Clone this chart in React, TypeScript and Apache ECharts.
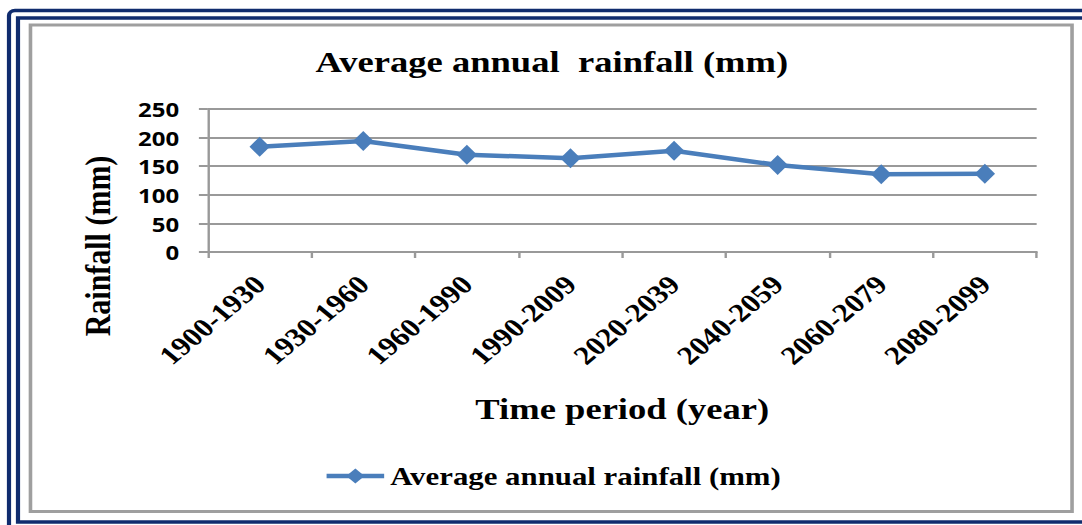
import React, { useEffect, useRef } from "react";
import * as echarts from "echarts";

const categories = [
  "1900-1930",
  "1930-1960",
  "1960-1990",
  "1990-2009",
  "2020-2039",
  "2040-2059",
  "2060-2079",
  "2080-2099",
];
const rainfall = [184, 194, 170, 164, 177, 152, 136, 137];
const seriesName = "Average annual rainfall (mm)";
const titleText = "Average annual  rainfall (mm)";
const xName = "Time period (year)";
const yName = "Rainfall (mm)";

const W = 902;
const H = 525;
const SX = 1082 / W;
const serif = "'Liberation Serif', 'Times New Roman', serif";
const navy = "#102c6e";

export default function App() {
  const ref = useRef<HTMLDivElement>(null);
  useEffect(() => {
    if (!ref.current) return;
    const chart = echarts.init(ref.current, null, { renderer: "svg" });
    chart.setOption({
      animation: false,
      backgroundColor: "#ffffff",
      title: {
        text: titleText,
        left: 263,
        top: 46,
        padding: 0,
        textStyle: { fontFamily: serif, fontWeight: "bold", fontSize: 30.5, color: "#000" },
      },
      legend: {
        data: [seriesName],
        left: 270,
        top: 463,
        padding: 0,
        itemWidth: 48,
        itemHeight: 19,
        itemGap: 5,
        lineStyle: { width: 4.5 },
        textStyle: { fontFamily: serif, fontWeight: "bold", fontSize: 25.7, color: "#000" },
      },
      grid: { left: 173.3, right: 37.8, top: 109, bottom: 273, containLabel: false },
      xAxis: {
        type: "category",
        data: categories,
        boundaryGap: true,
        name: xName,
        nameLocation: "middle",
        nameGap: 141,
        nameTextStyle: { fontFamily: serif, fontWeight: "bold", fontSize: 30.5, color: "#000" },
        axisLine: { lineStyle: { color: "#999", width: 2 } },
        axisTick: { show: true, length: 6, alignWithLabel: false, lineStyle: { color: "#999", width: 2 } },
        axisLabel: {
          interval: 0,
          rotate: 45,
          margin: 28,
          fontFamily: serif,
          fontWeight: "bold",
          fontSize: 26,
          color: "#000",
        },
        splitLine: { show: false },
      },
      yAxis: {
        type: "value",
        min: 0,
        max: 250,
        interval: 50,
        axisLine: { show: true, lineStyle: { color: "#999", width: 2 } },
        axisTick: { show: true, length: 7.5, lineStyle: { color: "#999", width: 2 } },
        axisLabel: {
          margin: 24,
          fontFamily: "'Open Sans', 'DejaVu Sans', sans-serif",
          fontWeight: "bold",
          fontSize: 20,
          color: "#000",
        },
        splitLine: { show: true, lineStyle: { color: "#999", width: 2 } },
      },
      series: [
        {
          name: seriesName,
          type: "line",
          data: rainfall,
          symbol: "diamond",
          symbolSize: [17, 20],
          itemStyle: { color: "#4a7ebb" },
          lineStyle: { color: "#4a7ebb", width: 4.5 },
        },
      ],
      graphic: [
        {
          type: "rect",
          silent: true,
          z: -10,
          shape: { x: 7.5, y: 10.5, width: 940, height: 540, r: 5 },
          style: { fill: "none", stroke: navy, lineWidth: 3.5 },
        },
        {
          type: "rect",
          silent: true,
          z: -10,
          shape: { x: 15, y: 18, width: 930, height: 504 },
          style: { fill: "none", stroke: navy, lineWidth: 3.5 },
        },
        {
          type: "rect",
          silent: true,
          z: -10,
          shape: { x: 25.4, y: 25, width: 868.3, height: 486.5 },
          style: { fill: "none", stroke: "#9f9f9f", lineWidth: 3 },
        },
        {
          type: "text",
          silent: true,
          x: 81,
          y: 246,
          rotation: Math.PI / 2,
          style: {
            text: yName,
            fontFamily: serif,
            fontWeight: "bold",
            fontSize: 30,
            fill: "#000",
            align: "center",
            verticalAlign: "middle",
          },
        },
      ],
    });
    return () => chart.dispose();
  }, []);
  return (
    <div
      ref={ref}
      style={{
        position: "fixed",
        left: 0,
        top: 0,
        width: W,
        height: H,
        transform: `scaleX(${SX})`,
        transformOrigin: "0 0",
      }}
    />
  );
}
